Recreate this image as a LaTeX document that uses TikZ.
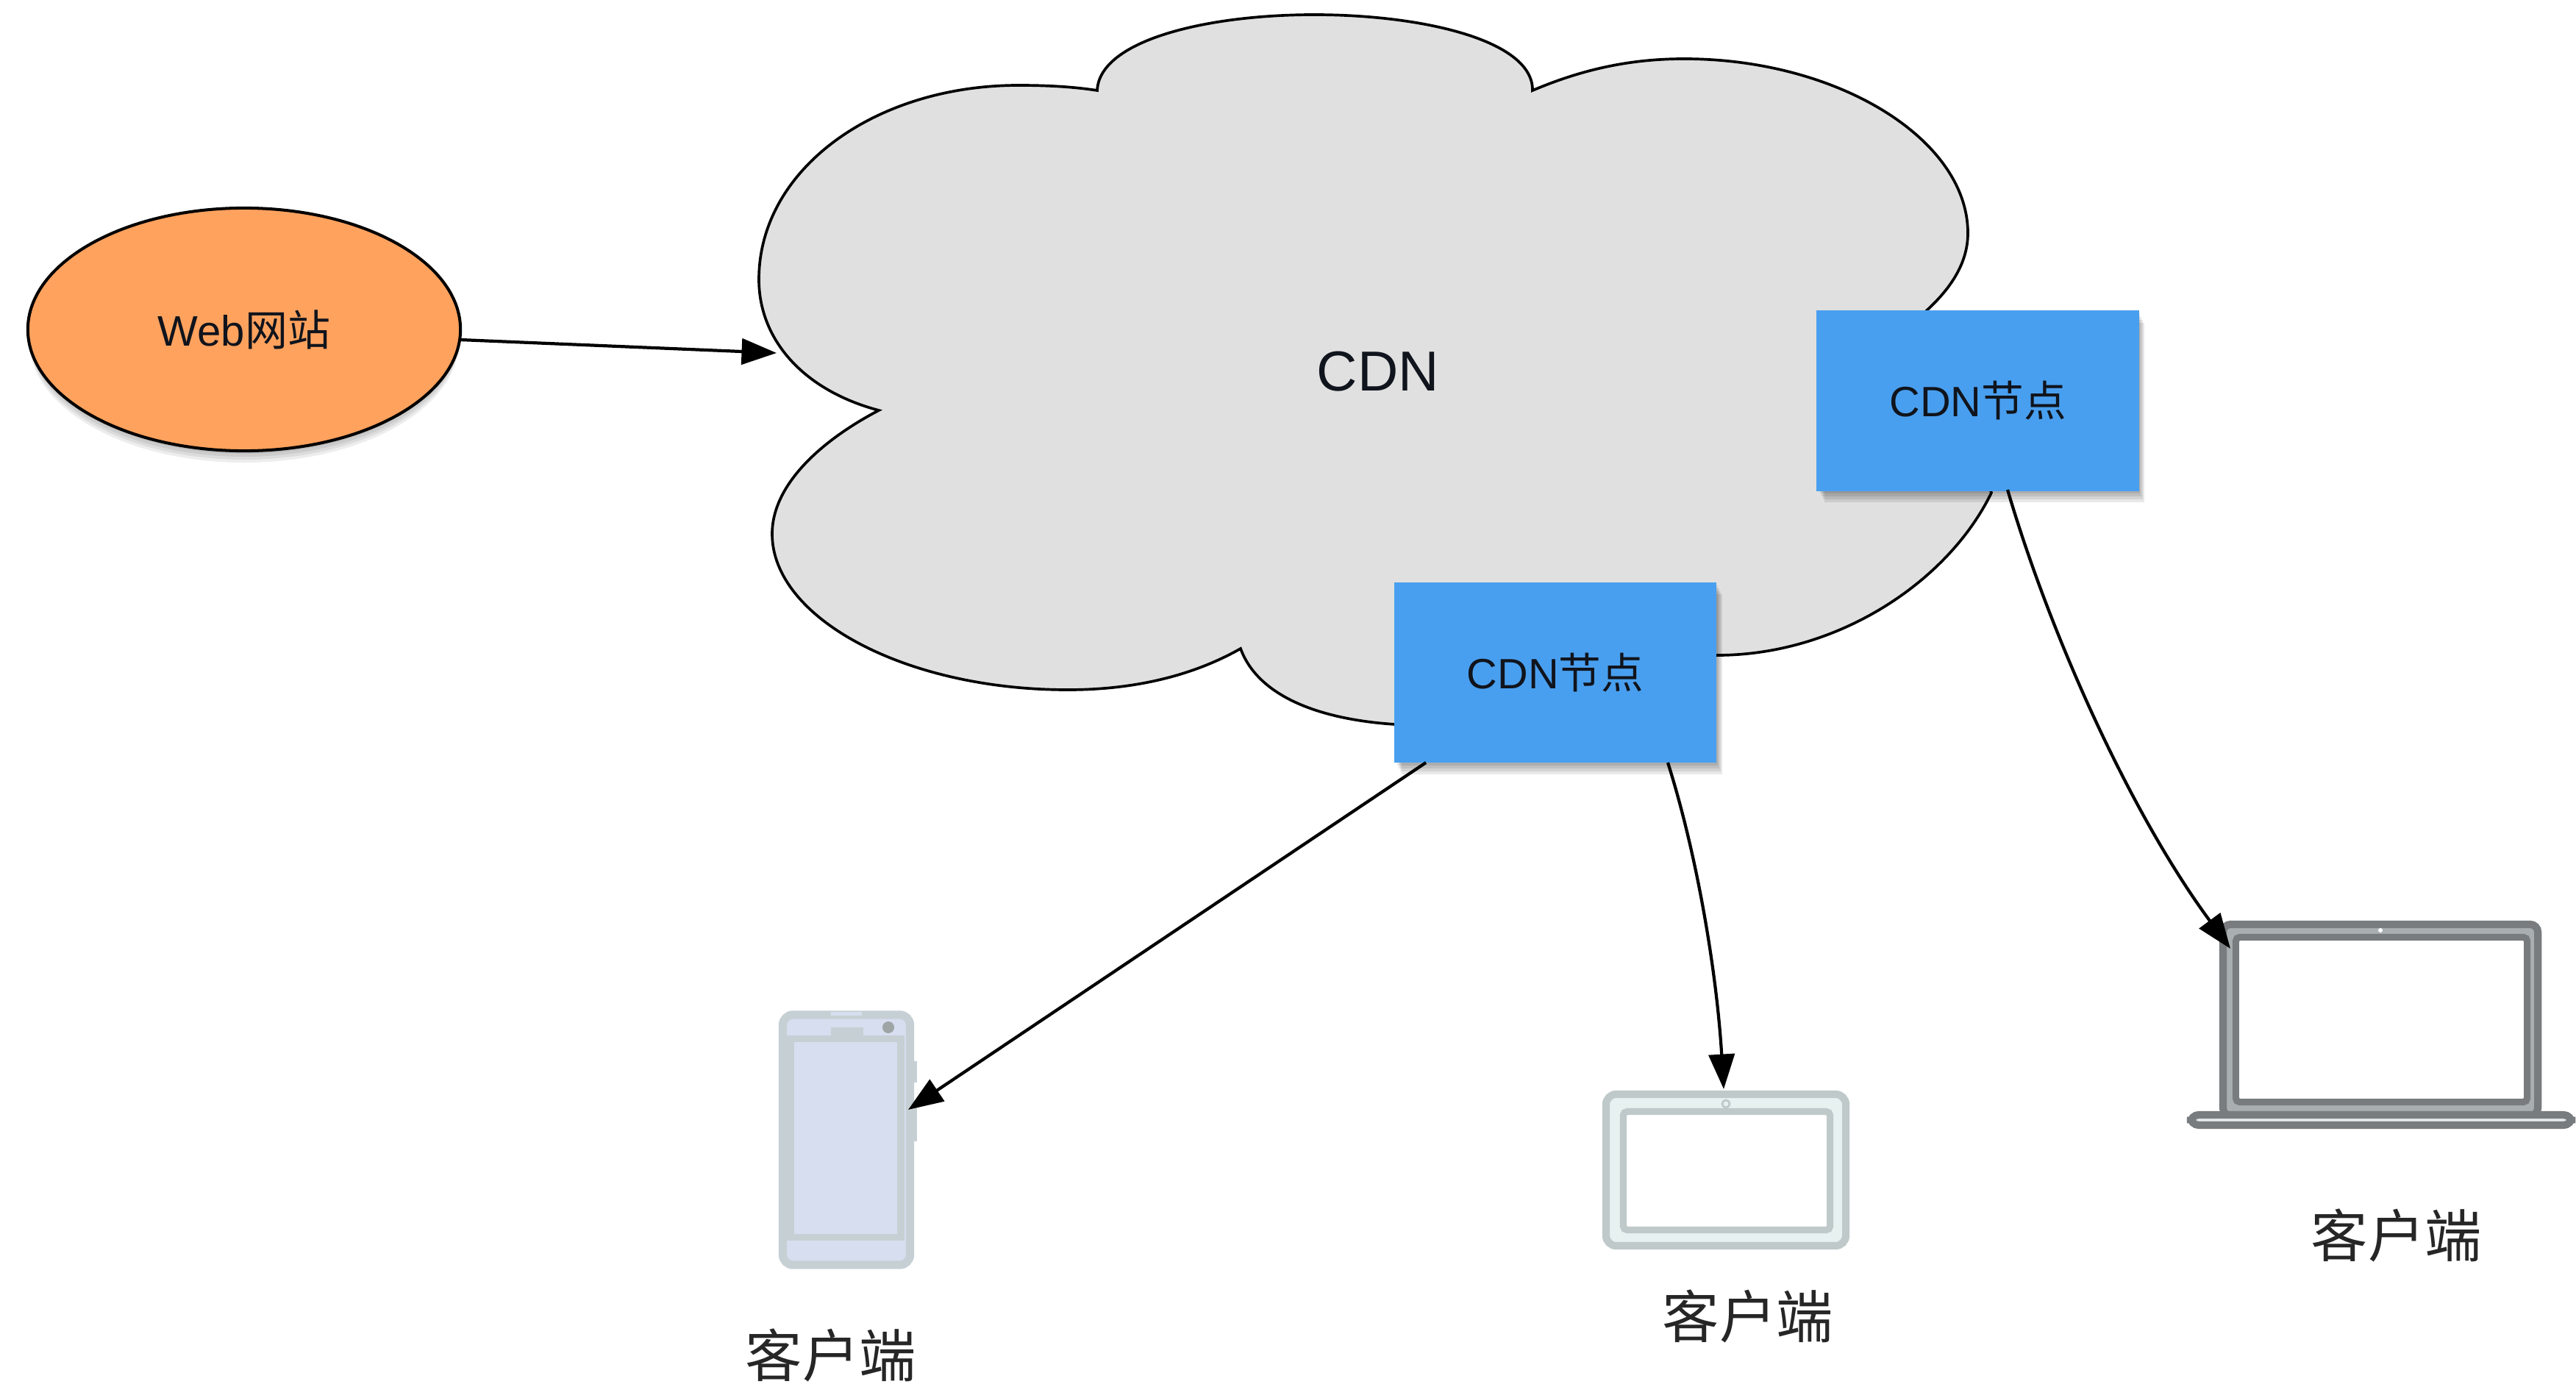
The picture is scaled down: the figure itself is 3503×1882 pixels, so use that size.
\documentclass[tikz,border=0pt]{standalone}
\usepackage{fontspec}
\setmainfont{Liberation Sans}
\newfontfamily\cjk{Noto Sans CJK SC}
\usetikzlibrary{arrows.meta,shapes.geometric}
\definecolor{cloudgrey}{HTML}{E0E0E0}
\definecolor{webfill}{HTML}{FFA25E}
\definecolor{boxblue}{HTML}{499FEF}
\definecolor{phoneline}{HTML}{C6D0D4}
\definecolor{phonefill}{HTML}{D7DEF0}
\definecolor{tabline}{HTML}{BFC9C9}
\definecolor{tabfill}{HTML}{E6F1F0}
\definecolor{lapline}{HTML}{787C7E}
\definecolor{lapfill}{HTML}{A9AEB1}
\definecolor{inktext}{HTML}{10141C}
\tikzset{
  x=0.01cm,y=-0.01cm,
  conn/.style={draw=black,line width=1.2pt,-{Triangle[length=13.5pt,width=10pt]}},
  cdnbox/.style={rectangle,fill=boxblue,minimum width=4.38cm,minimum height=2.45cm,inner sep=0pt,text=inktext,font=\fontsize{16.4}{20}\selectfont},
  boxshade/.style={fill=black,opacity=.09,draw=none},
  webell/.style={ellipse,draw=black,line width=1.15pt,fill=webfill,minimum width=5.88cm,minimum height=3.30cm,inner sep=0pt,text=inktext,font=\fontsize{16.5}{20}\selectfont},
  clientlabel/.style={inner sep=0pt,font=\fontsize{22}{24}\selectfont\cjk,text=black!85},
  devbody/.style={rectangle,rounded corners=4pt,inner sep=0pt},
}
\begin{document}
\begin{tikzpicture}
\useasboundingbox[fill=white] (0,0) rectangle (3503,1882);
% Web shadow
\foreach \d in {4,8,12,16}{
  \fill[black,opacity=.07] (332,448+\d) ellipse [x radius=292,y radius=165];
}
% cloud
\draw[fill=cloudgrey,draw=black,line width=1.05pt]
  (1492,123) .. controls (1495,55) and (1640,20) .. (1787,20)
  .. controls (1935,20) and (2085,55) .. (2084,123)
  .. controls (2150,95) and (2215,80) .. (2290,80)
  .. controls (2500,80) and (2676,190) .. (2676,317)
  .. controls (2676,360) and (2650,395) .. (2618,424)
  -- (2708,670)
  .. controls (2650,790) and (2500,891) .. (2335,891)
  -- (1897,985)
  .. controls (1790,978) and (1710,945) .. (1687,882)
  .. controls (1620,920) and (1540,938) .. (1452,938)
  .. controls (1230,938) and (1050,840) .. (1050,726)
  .. controls (1050,660) and (1115,600) .. (1195,558)
  .. controls (1090,530) and (1032,460) .. (1032,380)
  .. controls (1032,230) and (1190,116) .. (1385,116)
  .. controls (1425,116) and (1460,118) .. (1492,123) -- cycle;
\node[inner sep=0pt,text=inktext,font=\fontsize{21.8}{26}\selectfont] (cdn) at (1874,505) {CDN};
% web
\node[webell] (web) at (332,448) {Web{\cjk 网站}};
% boxes
\foreach \d in {4,8,12,16}{
  \fill[boxshade] (2473+\d/2,423+\d) rectangle (2908+\d/2,667+\d);
  \fill[boxshade] (1898+\d/2,792+\d) rectangle (2334+\d/2,1037+\d);
}
\node[cdnbox] (box1) at (2689.5,545) {CDN{\cjk 节点}};
\node[cdnbox] (box2) at (2115,914.5) {CDN{\cjk 节点}};
% phone
\fill[phoneline] (1243,1443) rectangle (1247,1472);
\fill[phoneline] (1243,1500) rectangle (1247,1552);
\node[devbody,draw=phoneline,fill=phonefill,line width=3.2pt,minimum width=1.73cm,minimum height=3.40cm] (phone) at (1151,1550) {};
\fill[phoneline] (1130,1397) rectangle (1174,1408);
\fill[phoneline] (1130,1375) rectangle (1174,1379);
\fill[phonefill] (1130,1376) rectangle (1172,1381);
\fill[gray!55!phoneline] (1208,1397) circle (8);
\node[rectangle,draw=phoneline,fill=phonefill,line width=2.6pt,minimum width=1.50cm,minimum height=2.70cm,inner sep=0pt] (phonescreen) at (1150,1547.5) {};
% tablet
\node[devbody,draw=tabline,fill=tabfill,line width=2.9pt,minimum width=3.26cm,minimum height=2.06cm] (tablet) at (2347,1591) {};
\node[rectangle,rounded corners=1.5pt,draw=tabline,fill=white,line width=2.6pt,minimum width=2.81cm,minimum height=1.61cm,inner sep=0pt] (tabletscreen) at (2348,1592) {};
\draw[tabline,line width=.8pt] (2347,1501) circle (5);
% laptop
\node[devbody,rectangle,rounded corners=3pt,draw=lapline,fill=lapfill,line width=2.9pt,minimum width=4.28cm,minimum height=2.60cm] (laptop) at (3237,1387) {};
\node[rectangle,rounded corners=1.5pt,draw=lapline,fill=white,line width=2.6pt,minimum width=3.96cm,minimum height=2.24cm,inner sep=0pt] (laptopscreen) at (3238.5,1386.5) {};
\node[rectangle,rounded corners=3.2pt,draw=lapline,fill=white!70!lapfill,line width=2.9pt,minimum width=5.18cm,minimum height=.14cm,inner sep=0pt] (laptopbase) at (3238,1523) {};
\fill[white] (3237,1265) circle (3);
% labels
\node[clientlabel] (lab1) at (1130,1843) {客户端};
\node[clientlabel] (lab2) at (2377,1790) {客户端};
\node[clientlabel] (lab3) at (3259,1680) {客户端};
% connector ends
\coordinate (phonetip) at (1235,1509);
\coordinate (tablettip) at (2344,1481);
\coordinate (laptoptip) at (3033,1290);
\coordinate (cloudtip) at (1056,480);
\coordinate (web-e) at (626,462);
\coordinate (b2a) at (1939,1037);
\coordinate (b2b) at (2268,1037);
\coordinate (b1a) at (2730,666);
\draw[conn] (web-e) -- (cloudtip);
\draw[conn] (b2a) -- (phonetip);
\draw[conn] (b2b) .. controls (2310,1170) and (2335,1330) .. (tablettip);
\draw[conn] (b1a) .. controls (2790,870) and (2900,1110) .. (laptoptip);
\end{tikzpicture}
\end{document}
